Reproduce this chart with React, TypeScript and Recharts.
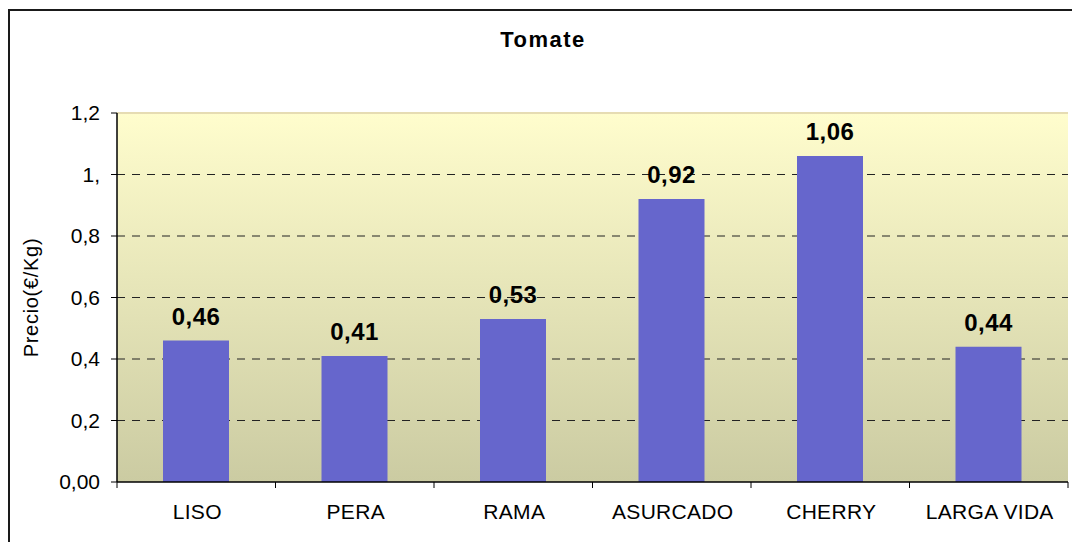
import React from "react";
import { BarChart, Bar, XAxis, YAxis, CartesianGrid, LabelList, ReferenceLine } from "recharts";

const categories = ["LISO", "PERA", "RAMA", "ASURCADO", "CHERRY", "LARGA VIDA"];
const prices = [0.46, 0.41, 0.53, 0.92, 1.06, 0.44];
const priceLabels = ["0,46", "0,41", "0,53", "0,92", "1,06", "0,44"];
const yTicks = [0, 0.2, 0.4, 0.6, 0.8, 1, 1.2];
const yTickLabels = ["0,00", "0,2", "0,4", "0,6", "0,8", "1,", "1,2"];
const gridValues = [0.2, 0.4, 0.6, 0.8, 1];

const data = categories.map((name, i) => ({ name, price: prices[i], label: priceLabels[i] }));

const FONT = '"Liberation Sans", Arial, sans-serif';

function CategoryTick(props: any) {
  const { x, y, payload, index, visibleTicksCount } = props;
  const half = payload?.offset || 79.25;
  const isLast = index === visibleTicksCount - 1;
  return (
    <g>
      <line x1={x - half} x2={x - half} y1={y} y2={y + 6} stroke="#000" />
      {isLast && <line x1={x + half} x2={x + half} y1={y} y2={y + 6} stroke="#000" />}
      <text
        x={x + 1}
        y={y + 37}
        textAnchor="middle"
        fontSize={21}
        letterSpacing={0.3}
        fill="#000"
        fontFamily={FONT}
      >
        {payload.value}
      </text>
    </g>
  );
}

function YTitle(props: any) {
  const vb = props.viewBox || { y: 113, height: 369 };
  const cy = vb.y + vb.height / 2;
  return (
    <text
      x={31}
      y={cy}
      transform={`rotate(-90 31 ${cy})`}
      textAnchor="middle"
      dominantBaseline="central"
      fontSize={20}
      letterSpacing={0.7}
      fill="#000"
      fontFamily={FONT}
    >
      Precio(€/Kg)
    </text>
  );
}

export default function App() {
  return (
    <div
      style={{
        position: "absolute",
        left: 0,
        top: 0,
        width: 1072,
        height: 542,
        overflow: "hidden",
        background: "#fff",
        fontFamily: FONT,
      }}
    >
      <svg width={0} height={0} style={{ position: "absolute" }}>
        <defs>
          <linearGradient id="plotBg" x1="0" y1="0" x2="0" y2="1">
            <stop offset="0%" stopColor="#FFFDCD" />
            <stop offset="100%" stopColor="#CBCBA2" />
          </linearGradient>
        </defs>
      </svg>
      <div
        style={{
          position: "absolute",
          left: 8,
          top: 9,
          width: 1100,
          height: 600,
          border: "2px solid #1a1a1a",
        }}
      />
      <div style={{ position: "absolute", left: 0, top: 0 }}>
        <BarChart
          width={1072}
          height={542}
          data={data}
          margin={{ top: 113, right: 4, bottom: 20, left: 0 }}
          barSize={66}
          style={{ fontFamily: FONT }}
        >
          <CartesianGrid
            vertical={false}
            fill="url(#plotBg)"
            fillOpacity={1}
            stroke="#222"
            strokeDasharray="8 7"
            horizontalValues={gridValues}
          />
          <ReferenceLine y={1.2} stroke="#E6DCB3" strokeWidth={2} />
          <XAxis
            dataKey="name"
            height={40}
            interval={0}
            tickLine={false}
            tickSize={0}
            tickMargin={0}
            axisLine={{ stroke: "#000", strokeWidth: 1.5 }}
            tick={<CategoryTick />}
          />
          <YAxis
            width={117}
            type="number"
            domain={[0, 1.2]}
            ticks={yTicks}
            interval={0}
            tickSize={6}
            tickMargin={11}
            axisLine={{ stroke: "#000", strokeWidth: 1.5 }}
            tickLine={{ stroke: "#000" }}
            tick={{ fontSize: 21, fill: "#000", fontFamily: FONT }}
            tickFormatter={(v: number) => yTickLabels[yTicks.indexOf(v)] ?? String(v)}
            label={{ content: <YTitle /> }}
          />
          <YAxis
            yAxisId="right"
            orientation="right"
            width={0}
            type="number"
            domain={[0, 1.2]}
            tick={false}
            tickLine={false}
            axisLine={{ stroke: "#E6DCB3", strokeWidth: 2 }}
          />
          <Bar dataKey="price" fill="#6666CC" isAnimationActive={false}>
            <LabelList
              dataKey="label"
              position="top"
              offset={16}
              fill="#000"
              fontSize={24}
              fontWeight="bold"
              letterSpacing={0.5}
              fontFamily={FONT}
            />
          </Bar>
        </BarChart>
      </div>
      <svg
        width={1072}
        height={542}
        style={{ position: "absolute", left: 0, top: 0, pointerEvents: "none" }}
      >
        <text
          x={543}
          y={47}
          textAnchor="middle"
          fontSize={22}
          fontWeight="bold"
          letterSpacing={1.5}
          fill="#000"
          fontFamily={FONT}
        >
          Tomate
        </text>
      </svg>
    </div>
  );
}
